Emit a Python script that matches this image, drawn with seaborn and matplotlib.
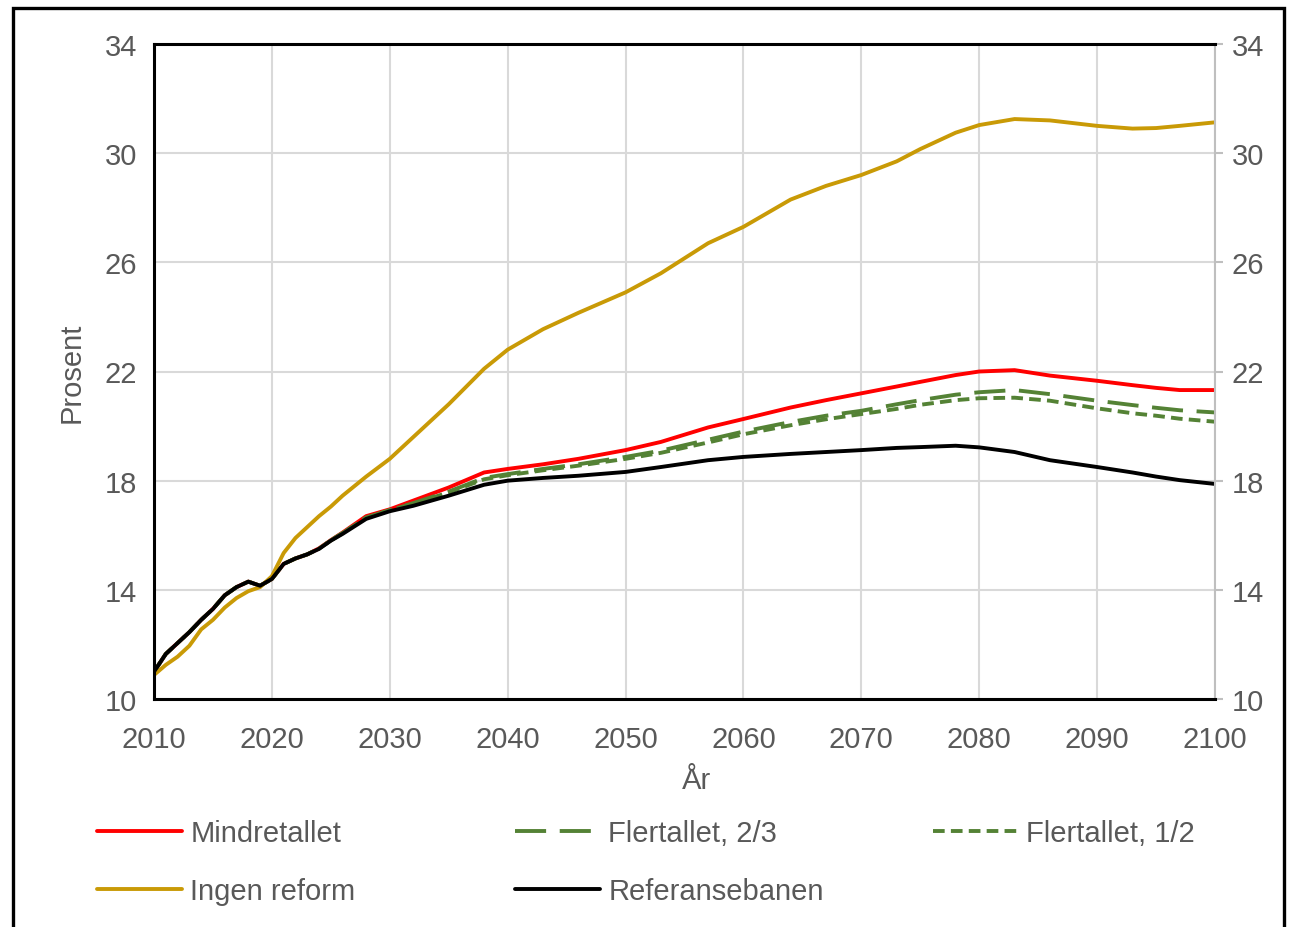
import matplotlib
matplotlib.use("Agg")
import matplotlib.pyplot as plt
from matplotlib.patches import Rectangle
from matplotlib.lines import Line2D
import seaborn as sns

years = [2010, 2011, 2012, 2013, 2014, 2015, 2016, 2017, 2018, 2019, 2020, 2021, 2022,
         2023, 2024, 2025, 2026, 2028, 2030, 2032, 2035, 2038, 2040, 2043, 2046, 2050,
         2053, 2057, 2060, 2064, 2067, 2070, 2073, 2075, 2078, 2080, 2083, 2086, 2090,
         2093, 2095, 2097, 2100]

referansebanen = [11.0, 11.65, 12.05, 12.45, 12.9, 13.3, 13.8, 14.1, 14.3, 14.15, 14.4, 14.95, 15.15,
                  15.3, 15.5, 15.8, 16.05, 16.6, 16.88, 17.08, 17.45, 17.85, 18.0, 18.1, 18.18, 18.32,
                  18.5, 18.75, 18.87, 18.98, 19.05, 19.12, 19.2, 19.23, 19.28, 19.22, 19.05, 18.75, 18.5,
                  18.3, 18.15, 18.02, 17.88]

mindretallet = [11.0, 11.65, 12.05, 12.45, 12.9, 13.3, 13.8, 14.1, 14.3, 14.15, 14.4, 14.95, 15.15,
                15.3, 15.52, 15.82, 16.1, 16.7, 16.95, 17.27, 17.75, 18.3, 18.43, 18.6, 18.8, 19.12,
                19.42, 19.95, 20.26, 20.68, 20.95, 21.2, 21.45, 21.62, 21.87, 22.0, 22.05, 21.85, 21.66,
                21.5, 21.4, 21.32, 21.32]

flertallet_23 = [11.0, 11.65, 12.05, 12.45, 12.9, 13.3, 13.8, 14.1, 14.3, 14.15, 14.4, 14.95, 15.15,
                 15.3, 15.51, 15.81, 16.08, 16.65, 16.92, 17.18, 17.6, 18.1, 18.24, 18.43, 18.6, 18.87,
                 19.1, 19.5, 19.8, 20.15, 20.38, 20.56, 20.8, 20.95, 21.15, 21.24, 21.32, 21.17, 20.93,
                 20.77, 20.67, 20.58, 20.5]

flertallet_12 = [11.0, 11.65, 12.05, 12.45, 12.9, 13.3, 13.8, 14.1, 14.3, 14.15, 14.4, 14.95, 15.15,
                 15.3, 15.51, 15.81, 16.08, 16.64, 16.92, 17.16, 17.57, 18.05, 18.2, 18.38, 18.55, 18.8,
                 19.02, 19.4, 19.7, 20.03, 20.25, 20.44, 20.63, 20.78, 20.95, 21.02, 21.04, 20.93, 20.65,
                 20.47, 20.38, 20.27, 20.16]

ingen_reform = [10.88, 11.25, 11.55, 11.95, 12.55, 12.9, 13.35, 13.7, 13.95, 14.1, 14.5, 15.35, 15.9,
                16.3, 16.7, 17.05, 17.45, 18.15, 18.8, 19.6, 20.8, 22.1, 22.8, 23.55, 24.15, 24.9,
                25.6, 26.7, 27.3, 28.3, 28.8, 29.2, 29.7, 30.15, 30.75, 31.03, 31.25, 31.2, 31.0,
                30.9, 30.92, 31.0, 31.13]

x_ticks = [2010, 2020, 2030, 2040, 2050, 2060, 2070, 2080, 2090, 2100]
y_ticks = [10, 14, 18, 22, 26, 30, 34]

sns.set_theme(style="white")
plt.rcParams['font.family'] = ['Liberation Sans', 'DejaVu Sans']

W, H = 1289, 928
fig = plt.figure(figsize=(W / 100, H / 100), dpi=100)
ax = fig.add_axes([154 / W, 1 - 700 / H, (1215 - 154) / W, (700 - 45) / H])

lw = 2.8
series = [
    ("Mindretallet", mindretallet, "#FF0000", None),
    ("Flertallet, 2/3", flertallet_23, "#548235", (8, 3.5)),
    ("Flertallet, 1/2", flertallet_12, "#548235", (3, 1.6)),
    ("Ingen reform", ingen_reform, "#C99A06", None),
    ("Referansebanen", referansebanen, "#000000", None),
]
handles = {}
for name, vals, col, dash in series:
    sns.lineplot(x=years, y=vals, ax=ax, color=col, linewidth=lw, label=name)
    line = ax.get_lines()[-1]
    if dash is not None:
        line.set_dashes(dash)
        handles[name] = Line2D([], [], color=col, linewidth=lw, dashes=dash)
    else:
        handles[name] = Line2D([], [], color=col, linewidth=lw)
ax.get_legend().remove()

ax.set_xlim(2010, 2100)
ax.set_ylim(10, 34)
ax.set_xticks(x_ticks)
ax.set_yticks(y_ticks)
ax.grid(True, color="#D9D9D9", linewidth=1.5)
ax.set_axisbelow(True)

tc = "#595959"
fs = 21
ax.tick_params(axis="x", bottom=False, labelsize=fs, labelcolor=tc, pad=13)
ax.tick_params(axis="y", left=False, right=True, labelleft=True, labelright=True,
               labelsize=fs, labelcolor=tc, length=6, width=1.5, color="#BFBFBF", pad=6)
ax.set_xlabel("År", fontsize=fs, color=tc, labelpad=8)
ax.xaxis.set_label_coords((696 - 154) / (1215 - 154), -0.102)
ax.set_ylabel("Prosent", fontsize=fs, color=tc, labelpad=14)

for s in ["left", "top", "bottom"]:
    ax.spines[s].set_color("black")
    ax.spines[s].set_linewidth(2.2)
ax.spines["right"].set_color("#BFBFBF")
ax.spines["right"].set_linewidth(1.5)

leg_kw = dict(frameon=False, fontsize=fs, handlelength=2.9, handletextpad=0.3,
              labelspacing=1.02, borderpad=0, borderaxespad=0, loc="upper left")
for labels, xpx in [(["Mindretallet", "Ingen reform"], 97),
                    (["Flertallet, 2/3", "Referansebanen"], 515),
                    (["Flertallet, 1/2"], 933)]:
    lg = fig.legend([handles[l] for l in labels], labels,
                    bbox_to_anchor=(xpx / W, 1 - 820 / H), **leg_kw)
    for t in lg.get_texts():
        t.set_color(tc)

fig.add_artist(Rectangle((13 / W, -0.02), (1284 - 13) / W, 1.02 - 9 / H,
                         transform=fig.transFigure, fill=False, edgecolor="black",
                         linewidth=2.4))

fig.savefig("out.png", dpi=100)
